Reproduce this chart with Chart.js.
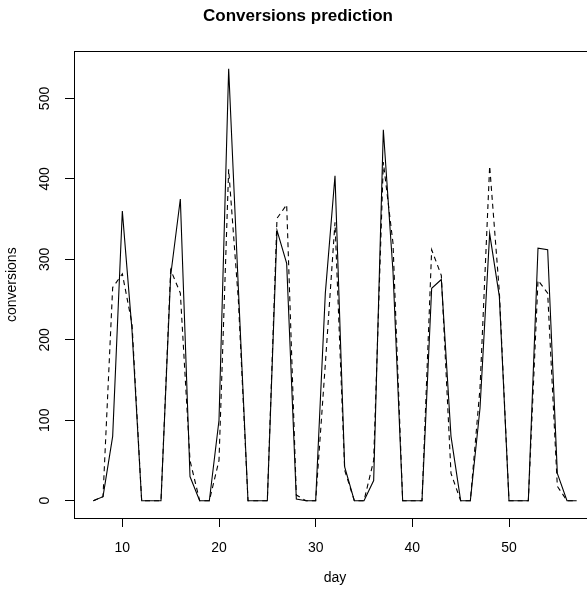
<!DOCTYPE html>
<html>
<head>
<meta charset="utf-8">
<title>Conversions prediction</title>
<script src="https://cdn.jsdelivr.net/npm/chart.js@4"></script>
<style>
  html, body { margin: 0; padding: 0; background: #fff; overflow: hidden; }
  #wrap { width: 620px; height: 592px; }
</style>
</head>
<body>
<div id="wrap"><canvas id="chart"></canvas></div>
<script>
const days = [7, 8, 9, 10, 11, 12, 13, 14, 15, 16, 17, 18, 19, 20, 21, 22, 23, 24, 25, 26,
  27, 28, 29, 30, 31, 32, 33, 34, 35, 36, 37, 38, 39, 40, 41, 42, 43, 44, 45, 46,
  47, 48, 49, 50, 51, 52, 53, 54, 55, 56, 57];
const actual = [0, 5, 80, 360, 212, 0, 0, 0, 280, 375, 30, 0, 0, 100, 537, 265, 0, 0, 0, 336,
  295, 2, 0, 0, 258, 404, 42, 0, 0, 25, 461, 285, 0, 0, 0, 264, 275, 80, 0, 0,
  115, 332, 254, 0, 0, 0, 314, 312, 34, 0, 0];
const predicted = [0, 5, 265, 282, 220, 0, 0, 0, 287, 258, 50, 0, 0, 50, 412, 250, 0, 0, 0, 351,
  368, 7, 0, 0, 170, 346, 38, 0, 0, 50, 421, 320, 0, 0, 0, 312, 280, 34, 0, 0,
  140, 416, 260, 0, 0, 0, 274, 258, 18, 0, 0];
const xTicks = [10, 20, 30, 40, 50];
const yTicks = [0, 100, 200, 300, 400, 500];

Chart.defaults.font.family = "'Liberation Sans', Arial, sans-serif";
Chart.defaults.color = '#000';

// box around the plot region, like R's bty = "o"
const boxPlugin = {
  id: 'box',
  afterDraw(chart) {
    const { ctx, chartArea: a } = chart;
    ctx.save();
    ctx.strokeStyle = '#000';
    ctx.lineWidth = 1;
    ctx.strokeRect(Math.round(a.left) + 0.5, Math.round(a.top) + 0.5,
      Math.round(a.right - a.left), Math.round(a.bottom - a.top));
    ctx.restore();
  }
};

new Chart(document.getElementById('chart'), {
  type: 'line',
  data: {
    labels: days,
    datasets: [
      {
        label: 'actual',
        data: actual,
        borderColor: '#000',
        borderWidth: 1.1,
        pointRadius: 0,
        tension: 0
      },
      {
        label: 'predicted',
        data: predicted,
        borderColor: '#000',
        borderWidth: 1.1,
        borderDash: [5, 4],
        pointRadius: 0,
        tension: 0
      }
    ]
  },
  options: {
    animation: false,
    responsive: true,
    maintainAspectRatio: false,
    devicePixelRatio: 1,
    layout: { padding: { left: 0, right: 24, top: 0, bottom: 0 } },
    plugins: {
      legend: { display: false },
      tooltip: { enabled: false },
      title: {
        display: true,
        text: 'Conversions prediction',
        color: '#000',
        font: { size: 17, weight: 'bold' },
        padding: { top: 6, bottom: 25 }
      }
    },
    scales: {
      x: {
        type: 'linear',
        min: 5,
        max: 59,
        afterBuildTicks: (axis) => { axis.ticks = xTicks.map(v => ({ value: v })); },
        afterFit: (scale) => { scale.height = 74; },
        border: { display: false },
        grid: { drawOnChartArea: false, drawTicks: true, tickLength: 9, tickColor: '#000' },
        ticks: { font: { size: 14 }, padding: 13, maxRotation: 0, autoSkip: false },
        title: { display: true, text: 'day', font: { size: 14 }, padding: { bottom: 5 } }
      },
      y: {
        min: -21.5,
        max: 558.5,
        afterBuildTicks: (axis) => { axis.ticks = yTicks.map(v => ({ value: v })); },
        afterFit: (scale) => { scale.width = 74; },
        border: { display: false },
        grid: { drawOnChartArea: false, drawTicks: true, tickLength: 9, tickColor: '#000' },
        ticks: { font: { size: 14 }, padding: 8, minRotation: 90, maxRotation: 90, crossAlign: 'center' },
        title: { display: true, text: 'conversions', font: { size: 14 }, padding: { top: 4 } }
      }
    }
  },
  plugins: [boxPlugin]
});
</script>
</body>
</html>
